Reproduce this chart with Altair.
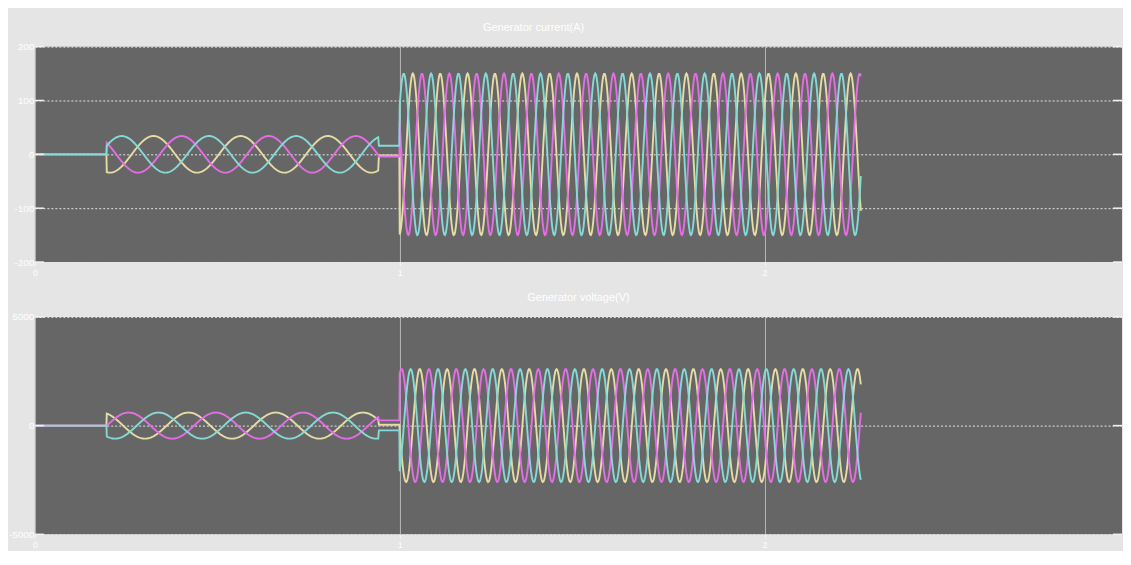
import altair as alt
import numpy as np
import pandas as pd

FONT = "Liberation Sans"

# ---- phases (drawing order: yellow, magenta, cyan on top)
PHASES = ["yellow", "magenta", "cyan"]
PHASE_COLORS = ["#e6dca6", "#e46ee6", "#86dad6"]

# ---- axes
X_DOMAIN = [0, 2.98]
X_TICKS = [0, 1, 2]
CUR_DOMAIN = [-200, 200]
CUR_TICKS = [-200, -100, 0, 100, 200]
VOLT_DOMAIN = [-5000, 5000]
VOLT_TICKS = [-5000, 0, 5000]

# ---- segment boundaries (time units)
T_LOW_START = 0.197
T_LOW_END = 0.943
T_HIGH_START = 1.0
T_HIGH_END = 2.265
LOW_PERIOD = 0.239
HIGH_PERIOD = 0.075

# ---- generator current (A)  values per phase in PHASES order
CUR_LOW_AMP = [34, 34, 34]
CUR_LOW_PEAK = [0.325, 0.402, 0.238]
CUR_HOLD = [-2, -4, 16]
CUR_HIGH_AMP = [150, 150, 150]
CUR_HIGH_PEAK = [1.036, 1.061, 1.011]

# ---- generator voltage (V)
VOLT_LOW_AMP = [600, 600, 600]
VOLT_LOW_PEAK = [0.421, 0.257, 0.339]
VOLT_HOLD = [40, 240, -220]
VOLT_HIGH_AMP = [2600, 2600, 2600]
VOLT_HIGH_PEAK = [1.055, 1.005, 1.030]

STEP = 0.002


def build(low_amp, low_peak, hold, high_amp, high_peak):
    rows = []
    for i, ph in enumerate(PHASES):
        t0 = np.arange(0.0, T_LOW_START, STEP)
        v0 = np.zeros_like(t0)
        t1 = np.arange(T_LOW_START, T_LOW_END, STEP)
        v1 = low_amp[i] * np.cos(2 * np.pi * (t1 - low_peak[i]) / LOW_PERIOD)
        t2 = np.arange(T_LOW_END, T_HIGH_START, STEP)
        v2 = np.full_like(t2, hold[i])
        t3 = np.arange(T_HIGH_START, T_HIGH_END, STEP)
        v3 = high_amp[i] * np.cos(2 * np.pi * (t3 - high_peak[i]) / HIGH_PERIOD)
        t = np.concatenate([t0, t1, t2, t3])
        v = np.concatenate([v0, v1, v2, v3])
        rows.append(pd.DataFrame({"t": t, "v": v, "phase": ph}))
    return pd.concat(rows, ignore_index=True)


cur_df = build(CUR_LOW_AMP, CUR_LOW_PEAK, CUR_HOLD, CUR_HIGH_AMP, CUR_HIGH_PEAK)
volt_df = build(VOLT_LOW_AMP, VOLT_LOW_PEAK, VOLT_HOLD, VOLT_HIGH_AMP, VOLT_HIGH_PEAK)

W = 1090
LABEL_EXPR = "datum.value < 0 ? '-' + abs(datum.value) : '' + datum.value"


def panel(df, title, ticks, dom, height, dx):
    xenc = alt.X(
        "t:Q",
        scale=alt.Scale(domain=X_DOMAIN, nice=False, zero=False),
        axis=alt.Axis(values=X_TICKS, grid=True, gridColor="#b8b8b8", gridWidth=1,
                      tickColor="#f4f4f4", tickSize=4, labelColor="#ffffff",
                      labelFontSize=9, labelFont=FONT, domain=False, title=None,
                      labelFlush=False, minExtent=14, maxExtent=14),
    )
    yenc = alt.Y(
        "v:Q",
        scale=alt.Scale(domain=dom, nice=False, zero=False),
        axis=alt.Axis(values=ticks, grid=True, gridColor="#e8e8e8", gridDash=[2, 2],
                      gridWidth=1, ticks=False, labelColor="#ffffff", labelFontSize=10,
                      labelFont=FONT, labelPadding=1, domain=False, title=None,
                      labelExpr=LABEL_EXPR),
    )
    layers = []
    for ph, col in zip(PHASES, PHASE_COLORS):
        layers.append(
            alt.Chart(df)
            .transform_filter(alt.datum.phase == ph)
            .mark_line(strokeWidth=1.9, clip=True, color=col)
            .encode(x=xenc, y=yenc)
        )
    tick_df = pd.DataFrame({"v": ticks})
    left = alt.Chart(tick_df).mark_rule(color="#f2f2f2", strokeWidth=1.5).encode(
        y=alt.Y("v:Q"), x=alt.value(0), x2=alt.value(9))
    right = alt.Chart(tick_df).mark_rule(color="#f2f2f2", strokeWidth=1.5).encode(
        y=alt.Y("v:Q"), x=alt.value(W - 9), x2=alt.value(W))
    return alt.layer(*layers, left, right).properties(
        width=W, height=height,
        title=alt.TitleParams(text=title, color="#ffffff", fontSize=11, font=FONT,
                              fontWeight="normal", offset=9, dx=dx, anchor="middle"),
    )


top = panel(cur_df, "Generator current(A)", CUR_TICKS, CUR_DOMAIN, 216, -45)
bottom = panel(volt_df, "Generator voltage(V)", VOLT_TICKS, VOLT_DOMAIN, 218, 0)

chart = (
    alt.vconcat(top, bottom, spacing=15)
    .properties(padding={"left": 0, "top": 13, "right": 0, "bottom": 1},
                background="#e5e5e5")
    .configure_view(fill="#666666", stroke="#666666", strokeWidth=0)
)

chart.save("out.html", embed_options={"renderer": "svg", "actions": False})
